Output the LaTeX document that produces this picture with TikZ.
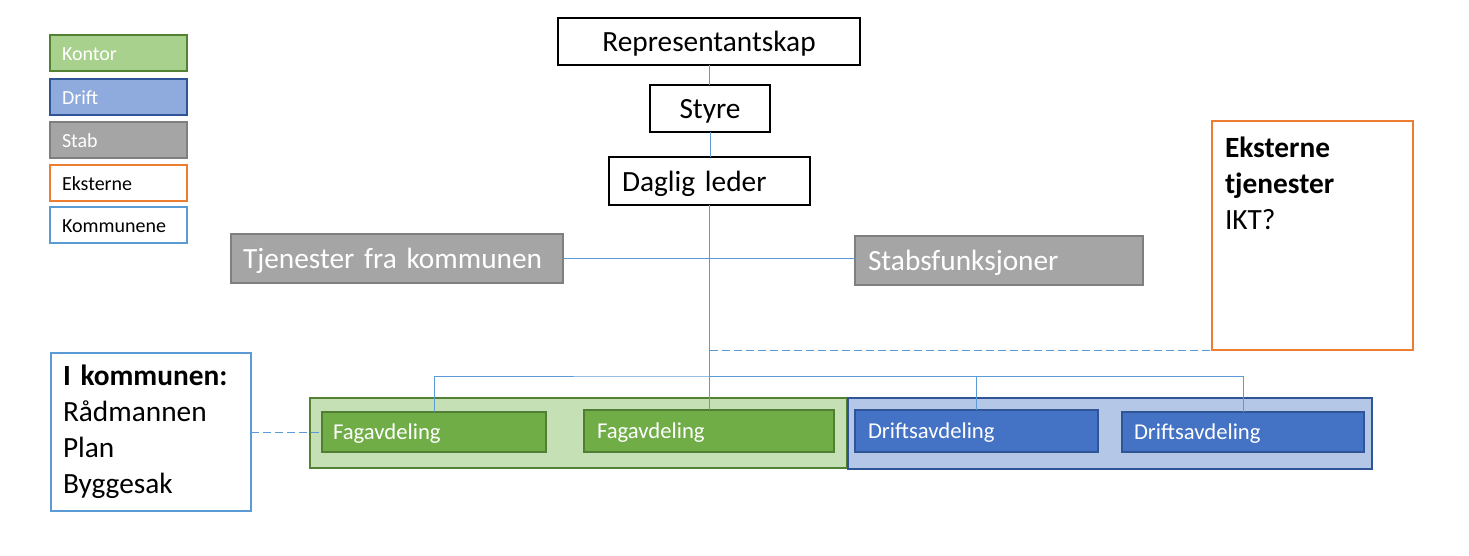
\documentclass[tikz,border=0pt]{standalone}
\usepackage{fontspec}
\setmainfont{Carlito}
\usetikzlibrary{positioning}
\definecolor{kontorfill}{HTML}{A9D18E}
\definecolor{kontorline}{HTML}{548235}
\definecolor{driftfill}{HTML}{8FAADC}
\definecolor{driftline}{HTML}{2F5597}
\definecolor{stabfill}{HTML}{A5A5A5}
\definecolor{stabline}{HTML}{7F7F7F}
\definecolor{eksline}{HTML}{ED7D31}
\definecolor{kommline}{HTML}{5B9BD5}
\definecolor{fagfill}{HTML}{70AD47}
\definecolor{fagline}{HTML}{507E32}
\definecolor{gruppegronn}{HTML}{C5E0B4}
\definecolor{gruppeblaa}{HTML}{B4C7E7}
\definecolor{avdfill}{HTML}{4472C4}

\begin{document}
\begin{tikzpicture}[x=0.75pt,y=-0.75pt]

  \tikzstyle{every node}=[anchor=north west,inner sep=0pt,outer sep=0pt]
  \tikzstyle{box}=[draw,line width=1.5pt,align=left,font=\fontsize{22}{27}\selectfont]
  \tikzstyle{enlinje}=[box,text height=19.5pt,text depth=4.5pt]
  \tikzstyle{legend}=[box,minimum height=27pt,inner xsep=9pt,text width=84.75pt,
    font=\fontsize{15}{18}\selectfont,text height=14.5pt,text depth=3pt]
  \tikzstyle{avd}=[box,font=\fontsize{17}{20}\selectfont,text=white,text height=14.5pt,text depth=3.5pt]
  \tikzstyle{line}=[draw=kommline,line width=0.75pt]
  \useasboundingbox (0,0) rectangle (1469,556);

  % forklaring
  \node[legend,fill=kontorfill,draw=kontorline,text=white] (lkontor) at (50,35) {Kontor};
  \node[legend,fill=driftfill,draw=driftline,text=white] (ldrift) at (50,79) {Drift};
  \node[legend,fill=stabfill,draw=stabline,text=white] (lstab) at (50,122) {Stab};
  \node[legend,draw=eksline] (leks) at (50,165) {Eksterne};
  \node[legend,draw=kommline] (lkomm) at (50,207) {Kommunene};

  % ledelse
  \node[enlinje,minimum width=226.5pt,minimum height=35.25pt,align=center] (rep) at (558,18)
    {Representantskap};
  \node[enlinje,minimum width=90pt,minimum height=35.25pt,align=center] (styre) at (650,85)
    {Styre};
  \node[enlinje,minimum height=36pt,inner xsep=9.75pt,text width=131.25pt] (daglig) at (609,157)
    {Daglig leder};

  % stab
  \node[enlinje,fill=stabfill,draw=stabline,text=white,minimum height=36.75pt,
    inner xsep=9pt,text width=231pt] (tjen) at (231,234) {Tjenester fra kommunen};
  \node[enlinje,fill=stabfill,draw=stabline,text=white,minimum height=36.75pt,
    inner xsep=9.75pt,text width=196.5pt] (stab) at (855,236) {Stabsfunksjoner};

  % eksterne
  \node[box,draw=eksline,minimum width=150.75pt,minimum height=171.75pt] (eks) at (1212,121) {};
  \node[align=left,font=\fontsize{22}{27}\selectfont] (ekstekst) at (1225,137)
    {\textbf{Eksterne}\\ \textbf{tjenester}\\ IKT?};

  % kommunen
  \node[box,draw=kommline,minimum height=118.5pt,inner xsep=9pt,text width=132pt] (komm) at (51,353)
    {\textbf{I kommunen:}\\ Rådmannen\\ Plan\\ Byggesak};

  % avdelinger
  \node[box,fill=gruppegronn,draw=kontorline,minimum width=402.75pt,minimum height=52.5pt] (kontor) at (310,398) {};
  \node[box,fill=gruppeblaa,draw=driftline,minimum width=393pt,minimum height=53.25pt] (drift) at (848,398) {};
  \node[avd,fill=fagfill,draw=fagline,minimum height=30pt,inner xsep=8.25pt,text width=151.5pt] (fag1) at (322,412)
    {Fagavdeling};
  \node[avd,fill=fagfill,draw=fagline,minimum height=31.5pt,inner xsep=9.75pt,text width=168pt] (fag2) at (584,410)
    {Fagavdeling};
  \node[avd,fill=avdfill,draw=driftline,minimum height=31.5pt,inner xsep=9.75pt,text width=162.75pt] (drift1) at (855,410)
    {Driftsavdeling};
  \node[avd,fill=avdfill,draw=driftline,minimum height=30pt,inner xsep=9pt,text width=163.5pt] (drift2) at (1122,412)
    {Driftsavdeling};

  \coordinate (buss) at (710,376);
  \coordinate (eksknekk) at (710,350);

  \foreach \from/\to in {rep/styre,styre/daglig,daglig/fag2}
    \draw[line] (\from.south) -- (\from.south |- \to.north);

  \draw[line] (tjen.east) -- (tjen.east -| stab.west);
  \draw[line] (fag1.north) |- (buss) -| (drift2.north);
  \draw[line] (buss) -| (drift1.north);
  \draw[line,dash pattern=on 6pt off 3pt] (eksknekk) -- (eks.south west);
  \draw[line,dash pattern=on 6pt off 3pt] (komm.east) -- (komm.east -| fag1.west);

\end{tikzpicture}
\end{document}
